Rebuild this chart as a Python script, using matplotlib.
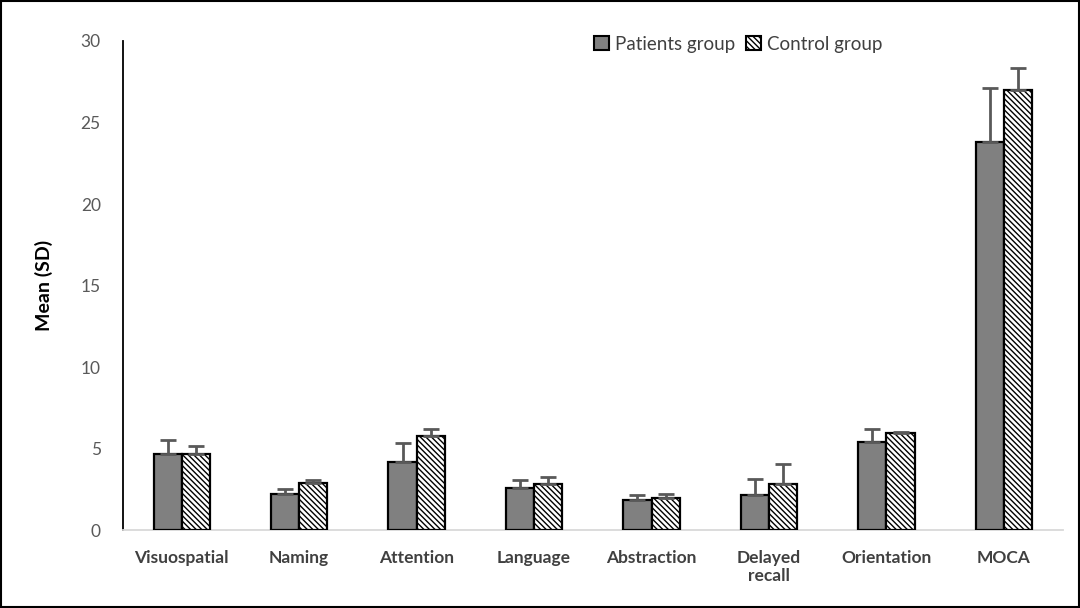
import numpy as np
import matplotlib
matplotlib.use("Agg")
import matplotlib.pyplot as plt
import matplotlib.patches as mpatches

# --- DATA ---
categories = ["Visuospatial", "Naming", "Attention", "Language", "Abstraction",
              "Delayed\nrecall", "Orientation", "MOCA"]
patients_mean = [4.66, 2.2, 4.17, 2.6, 1.85, 2.15, 5.42, 23.8]
patients_sd = [0.85, 0.3, 1.15, 0.5, 0.3, 1.0, 0.8, 3.3]
control_mean = [4.66, 2.9, 5.77, 2.85, 1.97, 2.85, 5.95, 27.0]
control_sd = [0.5, 0.17, 0.45, 0.4, 0.23, 1.2, 0.05, 1.35]
y_ticks = [0, 5, 10, 15, 20, 25, 30]

plt.rcParams['font.family'] = ['Lato', 'DejaVu Sans']
plt.rcParams['hatch.linewidth'] = 1.0

fig = plt.figure(figsize=(10.8, 6.08), dpi=100)
ax = fig.add_axes([0.1139, 0.128, 0.870, 0.8046])

x = np.arange(len(categories))
w = 0.24
zeros = np.zeros(len(categories))
hatch = '\\\\\\\\\\\\'

err_kw = dict(ecolor='#595959', elinewidth=2.0, capsize=6, capthick=2.0)
ax.bar(x - w / 2, patients_mean, w, color='#808080', edgecolor='black', linewidth=1.6,
       yerr=[zeros, patients_sd], error_kw=err_kw, label='Patients group', zorder=3)
ax.bar(x + w / 2, control_mean, w, color='white', edgecolor='black', linewidth=1.6,
       hatch=hatch, yerr=[zeros, control_sd], error_kw=err_kw, label='Control group', zorder=3)

ax.set_xlim(-0.5, len(categories) - 0.5)
ax.set_ylim(0, 30)
ax.set_yticks(y_ticks)
ax.set_xticks(x)
ax.set_xticklabels(categories, fontsize=12.5, fontweight='bold', color='#404040')
ax.tick_params(axis='y', length=0, labelsize=12.5, labelcolor='#595959', pad=16)
ax.tick_params(axis='x', length=0, pad=14)

ax.spines['top'].set_visible(False)
ax.spines['right'].set_visible(False)
ax.spines['left'].set_color('black')
ax.spines['left'].set_linewidth(1.3)
ax.spines['bottom'].set_color('#d9d9d9')
ax.spines['bottom'].set_linewidth(1.3)

ax.set_ylabel("Mean (SD)", fontsize=14, fontweight='bold', labelpad=20)

handles = [mpatches.Patch(facecolor='#808080', edgecolor='black', linewidth=1.5, label='Patients group'),
           mpatches.Patch(facecolor='white', edgecolor='black', linewidth=1.5, hatch=hatch,
                          label='Control group')]
ax.legend(handles=handles, loc='upper center', bbox_to_anchor=(0.655, 1.045), ncol=2,
          frameon=False, fontsize=13.5, handlelength=0.8, handleheight=0.8,
          handletextpad=0.3, columnspacing=0.6, labelcolor='#404040')

# outer figure border
fig.patches.append(mpatches.Rectangle((0.001, 0.001), 0.998, 0.998, transform=fig.transFigure,
                                      fill=False, edgecolor='black', linewidth=1.5))

fig.savefig("out.png", dpi=100)
